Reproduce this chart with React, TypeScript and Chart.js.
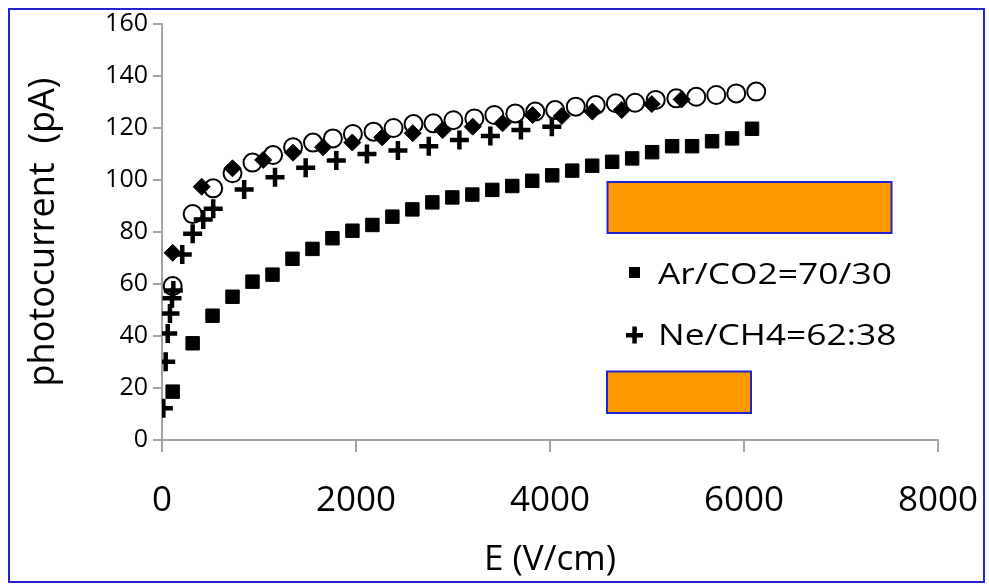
import React, { useEffect, useRef } from "react";
import { Chart, registerables } from "chart.js";

Chart.register(...registerables);

// ---- data ----
// Series covered by the first orange legend box (filled diamonds)
const diamondE = [110, 409, 727, 1043, 1351, 1660, 1962, 2270, 2585, 2894, 3203, 3511, 3820, 4122, 4437, 4740, 5049, 5357];
const diamondI = [72, 97.4, 104.5, 107.7, 110.5, 112.6, 114.4, 116.4, 118, 119.2, 120.5, 121.8, 125, 124.6, 126.3, 126.9, 129.2, 131];

// Ar/CO2=70/30 (filled squares)
const arE = [110, 316, 521, 727, 933, 1139, 1345, 1551, 1757, 1963, 2169, 2375, 2581, 2787, 2993, 3199, 3405, 3611, 3817, 4023, 4229, 4435, 4641, 4847, 5053, 5259, 5465, 5671, 5877, 6083];
const arI = [18.6, 37.2, 47.8, 55.1, 60.9, 63.6, 69.7, 73.5, 77.6, 80.5, 82.7, 85.9, 88.7, 91.4, 93.3, 94.4, 96.2, 97.7, 99.7, 101.8, 103.6, 105.5, 107, 108.3, 110.7, 113, 113, 114.9, 116, 119.7];

// Ne/CH4=62:38 (plus signs)
const neE = [14, 38, 59, 82, 103, 117, 209, 316, 425, 528, 847, 1165, 1481, 1797, 2113, 2432, 2750, 3066, 3385, 3700, 4019];
const neI = [12.2, 30.1, 41, 48.7, 54.5, 57.5, 71.3, 79.3, 84.8, 88.9, 96.3, 101.1, 104.7, 107.5, 110, 111.3, 113, 115.4, 116.9, 119.2, 120.5];

// Series covered by the second orange legend box (open circles)
const circleE = [110, 316, 528, 727, 933, 1145, 1351, 1557, 1762, 1968, 2181, 2387, 2593, 2798, 3004, 3220, 3426, 3642, 3848, 4053, 4266, 4472, 4678, 4877, 5090, 5302, 5508, 5714, 5920, 6126];
const circleI = [59.2, 86.9, 96.8, 102.6, 106.7, 109.6, 112.6, 114.4, 116, 117.7, 118.6, 120, 121.5, 121.8, 123, 123.7, 125, 125.6, 126.3, 126.9, 128.2, 128.8, 129.5, 129.7, 130.8, 131.4, 132, 132.7, 133.3, 134];

const xTickValues = [0, 2000, 4000, 6000, 8000];
const yTickValues = [0, 20, 40, 60, 80, 100, 120, 140, 160];

const xTitle = "E (V/cm)";
const yTitle = "photocurrent  (pA)";
const legendLabels = ["Ar/CO2=70/30", "Ne/CH4=62:38"];

const FONT = "'Open Sans', 'DejaVu Sans', sans-serif";
const AXIS_GRAY = "#a3a3a3";
const BLUE = "#2323cf";
const ORANGE = "#ff9900";

const toPoints = (xs: number[], ys: number[]) => xs.map((x, i) => ({ x, y: ys[i] }));

const overlayPlugin = {
  id: "overlay",
  afterDraw(chart: any) {
    const ctx: CanvasRenderingContext2D = chart.ctx;
    ctx.save();

    // legend markers
    ctx.fillStyle = "#000";
    ctx.fillRect(629, 267, 11, 11);
    ctx.fillRect(626, 333, 17, 4.5);
    ctx.fillRect(632.3, 326.5, 4.5, 17);

    // legend texts (horizontally stretched like the reference)
    ctx.font = `29px ${FONT}`;
    ctx.textBaseline = "alphabetic";
    ctx.textAlign = "left";
    const drawStretched = (t: string, x: number, y: number) => {
      ctx.save();
      ctx.translate(x, y);
      ctx.scale(1.22, 1);
      ctx.fillText(t, 0, 0);
      ctx.restore();
    };
    drawStretched(legendLabels[0], 658, 284);
    drawStretched(legendLabels[1], 658, 345);

    // orange boxes covering the other legend entries
    ctx.lineWidth = 2;
    ctx.strokeStyle = BLUE;
    ctx.fillStyle = ORANGE;
    ctx.fillRect(607.5, 182, 284, 51);
    ctx.strokeRect(607.5, 182, 284, 51);
    ctx.fillRect(607, 371.5, 144, 41.5);
    ctx.strokeRect(607, 371.5, 144, 41.5);

    // outer frame
    ctx.strokeRect(9, 9, 975, 573);
    ctx.restore();
  },
};

export default function App() {
  const canvasRef = useRef<HTMLCanvasElement | null>(null);

  useEffect(() => {
    document.body.style.margin = "0";
    const canvas = canvasRef.current;
    if (!canvas) return;

    const chart = new Chart(canvas, {
      type: "scatter",
      data: {
        datasets: [
          {
            label: "series A",
            data: toPoints(diamondE, diamondI),
            pointStyle: "rectRot",
            pointRadius: 8.5,
            backgroundColor: "#000",
            borderColor: "#000",
            borderWidth: 1,
            showLine: false,
          },
          {
            label: legendLabels[0],
            data: toPoints(arE, arI),
            pointStyle: "rect",
            pointRadius: 9.5,
            backgroundColor: "#000",
            borderColor: "#000",
            borderWidth: 1,
            showLine: false,
          },
          {
            label: legendLabels[1],
            data: toPoints(neE, neI),
            pointStyle: "cross",
            pointRadius: 9.5,
            backgroundColor: "#000",
            borderColor: "#000",
            borderWidth: 4.5,
            showLine: false,
          },
          {
            label: "series B",
            data: toPoints(circleE, circleI),
            pointStyle: "circle",
            pointRadius: 9,
            backgroundColor: "#fff",
            borderColor: "#000",
            borderWidth: 2,
            showLine: false,
          },
        ],
      },
      options: {
        animation: false,
        responsive: false,
        layout: { padding: { left: 10, right: 51, top: 24, bottom: 0 } },
        plugins: {
          legend: { display: false },
          tooltip: { enabled: false },
        },
        scales: {
          x: {
            type: "linear",
            min: 0,
            max: 8000,
            afterBuildTicks: (s: any) => {
              s.ticks = xTickValues.map((v) => ({ value: v }));
            },
            ticks: {
              font: { family: FONT, size: 35 },
              color: "#000",
              padding: 28,
              maxRotation: 0,
              callback: (v: any) => String(v),
            },
            grid: { drawOnChartArea: false, tickLength: 12, color: AXIS_GRAY, lineWidth: 2 },
            border: { color: AXIS_GRAY, width: 2 },
            title: {
              display: true,
              text: xTitle,
              color: "#000",
              font: { family: FONT, size: 35, lineHeight: 1 },
              padding: { top: 0, bottom: 6 },
            },
            afterFit: (s: any) => {
              s.height = 144;
              s.paddingLeft = 0;
              s.paddingRight = 0;
            },
          },
          y: {
            type: "linear",
            min: 0,
            max: 160,
            afterBuildTicks: (s: any) => {
              s.ticks = yTickValues.map((v) => ({ value: v }));
            },
            ticks: {
              font: { family: FONT, size: 25 },
              color: "#000",
              padding: 5,
              callback: (v: any) => String(v),
            },
            grid: { drawOnChartArea: false, tickLength: 9, color: AXIS_GRAY, lineWidth: 2 },
            border: { color: AXIS_GRAY, width: 2 },
            title: {
              display: true,
              text: yTitle,
              color: "#000",
              font: { family: FONT, size: 36, lineHeight: 1 },
              padding: { top: 16, bottom: 0 },
            },
            afterFit: (s: any) => {
              s.width = 152;
              s.paddingTop = 0;
              s.paddingBottom = 0;
            },
          },
        },
      },
      plugins: [overlayPlugin],
    });

    return () => chart.destroy();
  }, []);

  return (
    <div style={{ width: 989, height: 584 }}>
      <canvas ref={canvasRef} width={989} height={584} style={{ display: "block" }} />
    </div>
  );
}
